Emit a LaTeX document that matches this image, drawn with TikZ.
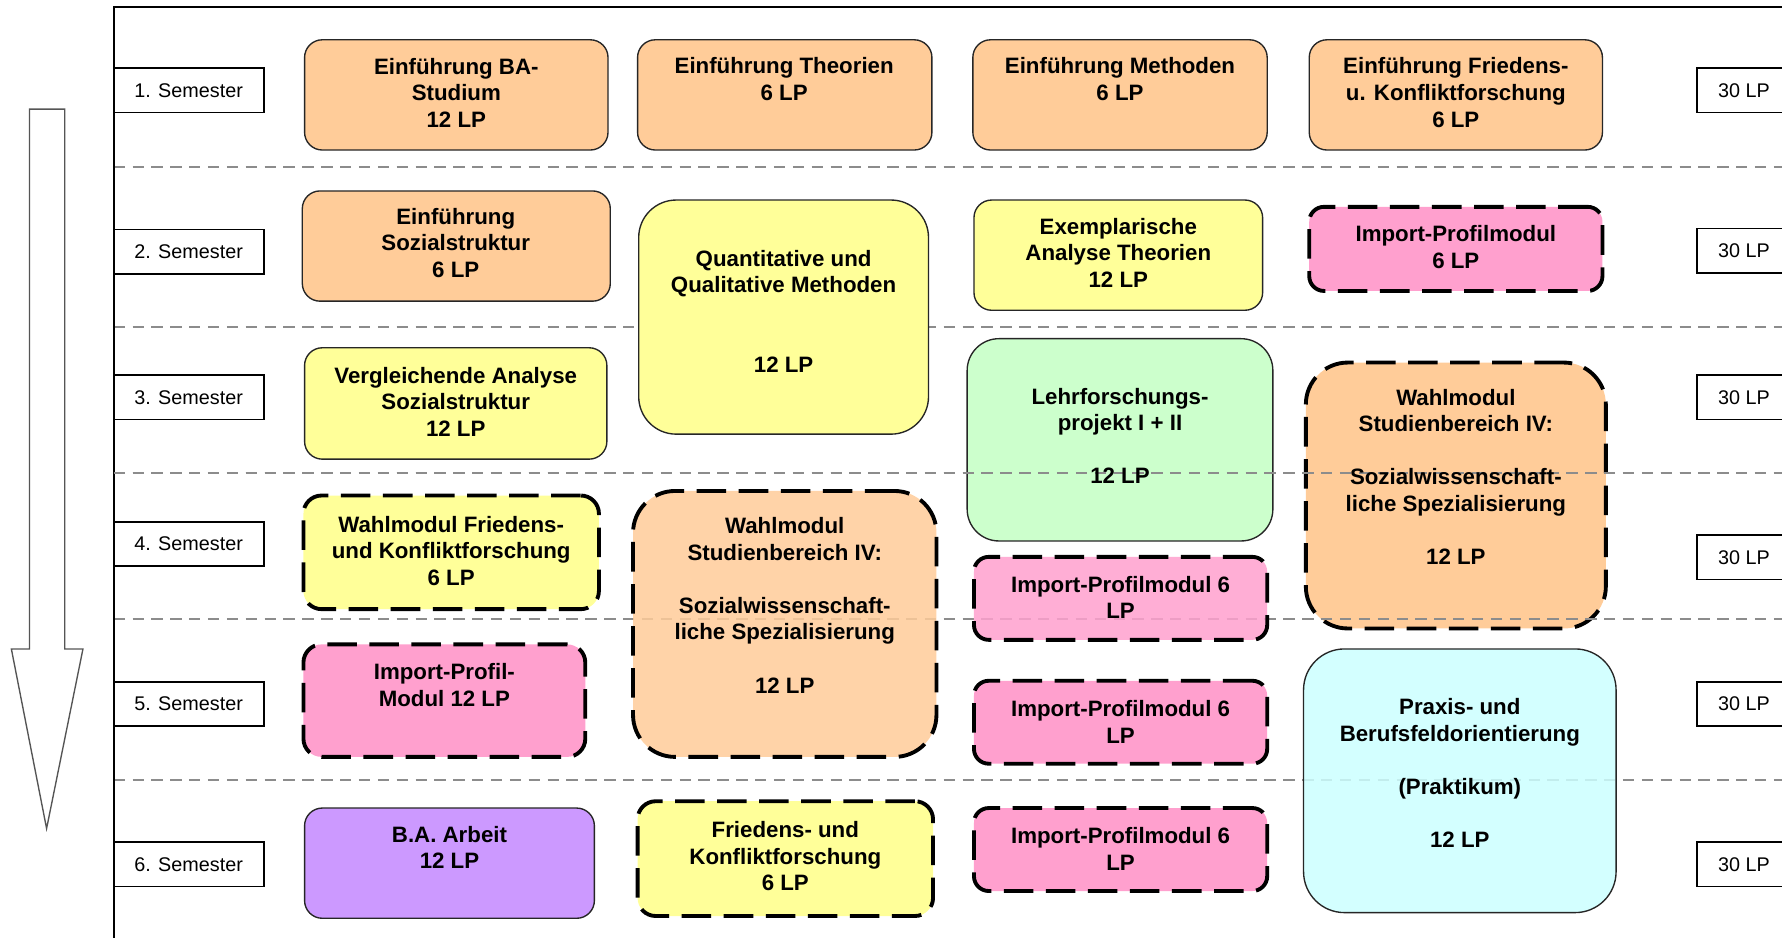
\documentclass[tikz,border=0pt]{standalone}
\usepackage{fontspec}
\setmainfont{Liberation Sans}
\usetikzlibrary{fit}
\definecolor{orng}{HTML}{FFCC99}
\definecolor{ylw}{HTML}{FFFF99}
\definecolor{grn}{HTML}{CCFFCC}
\definecolor{pnk}{HTML}{FFA0CE}
\definecolor{cyn}{HTML}{CCFFFF}
\definecolor{prpl}{HTML}{CC99FF}
\definecolor{sepgray}{HTML}{8C8C8C}
\definecolor{arrgray}{HTML}{555555}
\tikzset{
  mod/.style={draw=black!85, line width=0.6pt, inner sep=0pt},
  dmod/.style={draw=black, line width=1.7pt, dash pattern=on 13pt off 5.5pt, inner sep=0pt},
  txt/.style={font=\fontsize{9.8}{11.7}\selectfont\bfseries, align=center, inner sep=0pt},
  sem/.style={draw=black, line width=0.75pt, fill=white, font=\fontsize{8.7}{10}\selectfont, inner sep=0pt, minimum height=19.5pt},
  semw/.style={sem, minimum width=66pt},
  lpw/.style={sem, minimum width=41.5pt},
  sepline/.style={draw=sepgray, line width=0.9pt, dash pattern=on 5pt off 3.3pt},
}
\begin{document}
\begin{tikzpicture}[x=0.5pt,y=-0.5pt]
\useasboundingbox (0,0) rectangle (1568,825);
\clip (0,0) rectangle (1568,825);
\fill[white] (0,0) rectangle (1568,825);

% separators (behind)
\foreach \yy in {147,288,416,545,686}{
  \draw[sepline] (100,\yy) -- (1575,\yy);
}

% frame
\draw[line width=1pt] (100,830) -- (100,6) -- (1575,6);

% arrow
\draw[draw=arrgray, line width=0.6pt, fill=white]
  (26,96) -- (57,96) -- (57,571) -- (73,571) -- (41,729) -- (10,571) -- (26,571) -- cycle;

% semester labels
\node[semw] (s1) at (166,79.5) {1. Semester};
\node[semw] (s2) at (166,221.5) {2. Semester};
\node[semw] (s3) at (166,349.5) {3. Semester};
\node[semw] (s4) at (166,478.5) {4. Semester};
\node[semw] (s5) at (166,619.5) {5. Semester};
\node[semw] (s6) at (166,760.5) {6. Semester};

% credit boxes
\node[lpw] (r1) at (1534.5,79.5) {30 LP};
\node[lpw] (r2) at (1534.5,220.5) {30 LP};
\node[lpw] (r3) at (1534.5,349.5) {30 LP};
\node[lpw] (r4) at (1534.5,490.5) {30 LP};
\node[lpw] (r5) at (1534.5,619.5) {30 LP};
\node[lpw] (r6) at (1534.5,760.5) {30 LP};

% module boxes
\node[mod, fill=orng, rounded corners=7.8pt, fit={(268,35)(535,132)}] (a1) {};
\node[mod, fill=orng, rounded corners=7.8pt, fit={(561,35)(820,132)}] (a2) {};
\node[mod, fill=orng, rounded corners=7.8pt, fit={(856,35)(1115,132)}] (a3) {};
\node[mod, fill=orng, rounded corners=7.8pt, fit={(1152,35)(1410,132)}] (a4) {};

\node[mod, fill=orng, rounded corners=7.8pt, fit={(266,168)(537,265)}] (b1) {};
\node[mod, fill=ylw, rounded corners=16.5pt, fit={(562,176)(817,382)}] (b2) {};
\node[mod, fill=ylw, rounded corners=7.8pt, fit={(857,176)(1111,273)}] (b3) {};
\node[dmod, fill=pnk, rounded corners=6.5pt, fit={(1152,182)(1410,256)}] (b4) {};

\node[mod, fill=ylw, rounded corners=7.8pt, fit={(268,306)(534,404)}] (c1) {};
\node[mod, fill=grn, rounded corners=14pt, fit={(851,298)(1120,476)}] (c3) {};
\node[dmod, fill=orng, rounded corners=18.5pt, fit={(1149,319)(1413,553)}] (c4) {};

\node[dmod, fill=ylw, rounded corners=8pt, fit={(267,436)(527,536)}] (d1) {};
\node[dmod, fill=orng, fill opacity=0.85, rounded corners=18.5pt, fit={(557,432)(824,666)}] (d2) {};
\node[dmod, fill=pnk, fill opacity=0.85, rounded corners=6.5pt, fit={(857,490)(1115,563)}] (d3) {};

\node[dmod, fill=pnk, rounded corners=8pt, fit={(267,567)(515,666)}] (e1) {};
\node[dmod, fill=pnk, rounded corners=6.5pt, fit={(857,599)(1115,672)}] (e3) {};
\node[mod, fill=cyn, fill opacity=0.85, rounded corners=18pt, fit={(1147,571)(1422,803)}] (e4) {};

\node[mod, fill=prpl, rounded corners=7.8pt, fit={(268,711)(523,808)}] (f1) {};
\node[dmod, fill=ylw, rounded corners=8pt, fit={(561,705)(821,806)}] (f2) {};
\node[dmod, fill=pnk, rounded corners=6.5pt, fit={(857,711)(1115,784)}] (f3) {};

% separators drawn on top of some boxes
\draw[sepline] (100,416) -- (1575,416);
\begin{scope}
  \clip (1140,530) rectangle (1425,560);
  \draw[sepline] (100,545) -- (1575,545);
\end{scope}

% module texts
\node[txt] (a1t) at (401.5,81.5) {Einführung BA-\\Studium\\12 LP};
\node[txt] (a2t) at (690,69.5) {Einführung Theorien\\6 LP};
\node[txt] (a3t) at (985.5,69.5) {Einführung Methoden\\6 LP};
\node[txt] (a4t) at (1281,81.5) {Einführung Friedens-\\u. Konfliktforschung\\6 LP};

\node[txt] (b1t) at (401,213.5) {Einführung\\Sozialstruktur\\6 LP};
\node[txt] (b2t) at (689.5,274) {Quantitative und\\Qualitative Methoden\\[23.4pt]12 LP};
\node[txt] (b3t) at (984,222.5) {Exemplarische\\Analyse Theorien\\12 LP};
\node[txt] (b4t) at (1281,217.5) {Import-Profilmodul\\6 LP};

\node[txt] (c1t) at (401,353.5) {Vergleichende Analyse\\Sozialstruktur\\12 LP};
\node[txt] (c3t) at (985.5,383.5) {Lehrforschungs-\\projekt I + II\\[11.7pt]12 LP};
\node[txt] (c4t) at (1281,419.5) {Wahlmodul\\Studienbereich IV:\\[11.7pt]Sozialwissenschaft-\\liche Spezialisierung\\[11.7pt]12 LP};

\node[txt] (d1t) at (397,484.5) {Wahlmodul Friedens-\\und Konfliktforschung\\6 LP};
\node[txt] (d2t) at (690.5,532.5) {Wahlmodul\\Studienbereich IV:\\[11.7pt]Sozialwissenschaft-\\liche Spezialisierung\\[11.7pt]12 LP};
\node[txt] (d3t) at (986,525.5) {Import-Profilmodul 6\\LP};

\node[txt] (e1t) at (391,603) {Import-Profil-\\Modul 12 LP};
\node[txt] (e3t) at (986,635) {Import-Profilmodul 6\\LP};
\node[txt] (e4t) at (1284.5,680.5) {Praxis- und\\Berufsfeldorientierung\\[11.7pt](Praktikum)\\[11.7pt]12 LP};

\node[txt] (f1t) at (395.5,745.5) {B.A. Arbeit\\12 LP};
\node[txt] (f2t) at (691,753.5) {Friedens- und\\Konfliktforschung\\6 LP};
\node[txt] (f3t) at (986,747) {Import-Profilmodul 6\\LP};
\end{tikzpicture}
\end{document}
